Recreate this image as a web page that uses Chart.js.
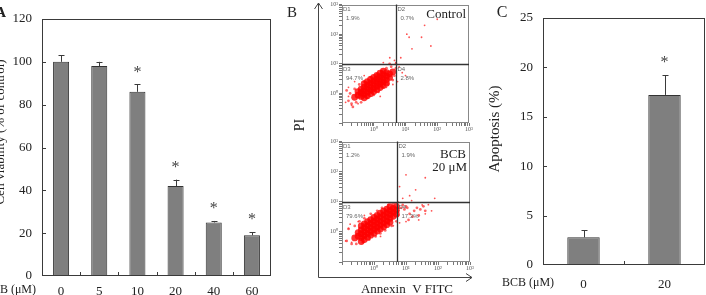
<!DOCTYPE html>
<html>
<head>
<meta charset="utf-8">
<script src="https://cdn.jsdelivr.net/npm/chart.js@4"></script>
<style>
  html, body { margin: 0; padding: 0; background: #fff; }
  body { width: 706px; height: 295px; position: relative; overflow: hidden; }
  .box { position: absolute; }
</style>
</head>
<body>
<div class="box" style="left:0;top:0;width:280px;height:295px"><canvas id="chartA"></canvas></div>
<div class="box" style="left:285px;top:0;width:190px;height:295px"><canvas id="axesB"></canvas></div>
<div class="box" style="left:320px;top:0;width:155px;height:140px"><canvas id="flowTop"></canvas></div>
<div class="box" style="left:320px;top:137px;width:155px;height:140px"><canvas id="flowBottom"></canvas></div>
<div class="box" style="left:470px;top:0;width:236px;height:295px"><canvas id="chartC"></canvas></div>
<script>
// panel A - cell viability
const doses = ["0", "5", "10", "20", "40", "60"];
const viability = [100, 98, 86, 42, 25, 19];
const viabilityErr = [103, 100, 89.5, 45, 25.7, 20.5];
const viabilityStar = [false, false, true, true, true, true];

// panel C - apoptosis
const apoDoses = ["0", "20"];
const apoptosis = [2.8, 17.2];
const apoptosisErr = [3.5, 19.2];
const apoptosisStar = [false, true];

// panel B - flow cytometry (Annexin V FITC, PI)
const controlCore = [
  [0.25, 0.74], [0.32, 0.87], [0.32, 1.15], [0.4, 1.05], [0.4, 0.79], [0.4, 1.38],
  [0.5, 1.23], [0.5, 0.93], [0.5, 1.62], [0.63, 1.45], [0.63, 1.1], [0.63, 1.9],
  [0.79, 1.7], [0.79, 1.29], [0.79, 2.24], [1, 2], [1, 1.51], [1, 2.63],
  [1.26, 2.34], [1.26, 1.78], [1.26, 3.09], [1.58, 2.75], [1.58, 2.09], [1.58, 3.63],
  [2, 3.24], [2, 2.45], [2, 4.27], [2.51, 3.8], [2.51, 2.88], [2.51, 5],
  [3.16, 4.57], [3.16, 3.47], [3.98, 5.37],
  [0.5, 2.14], [0.5, 0.71], [0.63, 2.51], [0.63, 0.83], [0.79, 2.95], [0.79, 0.98],
  [1, 3.47], [1, 1.15], [1.26, 4.07], [1.26, 1.35], [1.58, 4.79], [1.58, 1.58],
  [2, 5.62], [2, 1.86], [2.51, 2.19],
];
const controlHalo = [
  [0.16, 0.56], [0.18, 1], [0.2, 0.45], [0.25, 1.41], [0.28, 0.5], [0.35, 2], [0.4, 0.5],
  [0.5, 2.5], [0.63, 0.71], [0.79, 3.55], [1, 0.89], [1.26, 4.47], [1.41, 1.12], [1.78, 5.62],
  [2, 1.58], [2.51, 7.08], [2.82, 2], [3.55, 7.94], [3.98, 2.82], [4.47, 3.98], [5, 7.08],
  [0.14, 1.26], [0.22, 0.35], [5, 10], [3.16, 10],
];
const controlSparse = [
  [0.13, 0.5], [0.16, 1.6], [0.2, 0.4], [0.25, 2.5], [5, 11], [6.3, 7.9], [4.5, 13], [7.9, 5],
  [16, 32], [32, 79], [63, 40], [3.2, 16], [2, 11], [5.6, 2.5], [10, 4], [0.5, 4], [1.6, 0.79],
  [2.5, 1.6], [4, 2], [0.16, 0.79], [0.32, 0.45], [40, 200], [13, 79], [100, 320], [11, 100], [7.1, 16],
];
const bcbCore = [
  [0.25, 0.63], [0.32, 0.72], [0.32, 0.95], [0.4, 0.87], [0.4, 1.17], [0.4, 0.65],
  [0.5, 1.02], [0.5, 1.38], [0.5, 0.76], [0.63, 1.2], [0.63, 1.62], [0.63, 0.89],
  [0.79, 1.41], [0.79, 1.91], [0.79, 1.05], [1, 1.66], [1, 2.24], [1, 1.23],
  [1.26, 1.95], [1.26, 2.63], [1.26, 1.45], [1.58, 2.29], [1.58, 3.09], [1.58, 1.7],
  [2, 2.69], [2, 3.63], [2, 2], [2.51, 3.16], [2.51, 4.27], [2.51, 2.34],
  [3.16, 3.8], [3.16, 5.13], [3.16, 2.82], [3.98, 4.47], [3.98, 6.03], [5, 5.25],
  [0.4, 1.58], [0.4, 0.48], [0.5, 1.86], [0.5, 0.56], [0.63, 2.19], [0.63, 0.66],
  [0.79, 2.57], [0.79, 0.78], [1, 3.02], [1, 0.91], [1.26, 3.55], [1.26, 1.07],
  [1.58, 4.17], [1.58, 1.26], [2, 4.9], [2, 1.48], [2.51, 5.75], [2.51, 1.74],
  [3.16, 6.92], [3.16, 2.09], [3.98, 3.31], [5, 7.08], [5, 3.89],
];
const bcbHalo = [
  [5.6, 5], [7.1, 6.3], [8.9, 5.6], [10, 7.1], [7.9, 7.9], [11, 6.3],
  [13, 4], [18, 5], [22, 6.3], [28, 5.6], [35, 7.1], [16, 3.2], [25, 3.5], [40, 5], [12, 2.5],
  [0.14, 0.5], [0.16, 1.26], [0.2, 0.4], [0.25, 1.58], [0.28, 0.4], [0.35, 2.24], [0.45, 0.45],
  [0.5, 2.82], [0.71, 0.56], [0.79, 3.98], [1.12, 0.71], [1.26, 5], [1.58, 0.89], [1.78, 6.31],
  [2.24, 1.12], [2.82, 7.94], [3.55, 1.58], [3.98, 8.91], [5, 2.24], [5.62, 3.55],
];
const bcbSparse = [
  [0.13, 0.5], [0.16, 1.3], [0.2, 0.45], [0.18, 1.8], [0.32, 2.2], [6.3, 2], [10, 2.2], [25, 2.5],
  [40, 4], [63, 5], [32, 7.9], [7.9, 13], [13, 16], [20, 25], [6.3, 32], [40, 63], [10, 79],
  [0.5, 3.5], [1.6, 0.71], [4, 1.6], [79, 13], [5.6, 10], [50, 8], [15, 11],
];
const quadNames = ["D1", "D2", "D3", "D4"];
const controlQuad = ["1.9%", "0.7%", "94.7%", "2.8%"];
const bcbQuad = ["1.2%", "1.9%", "79.6%", "17.3%"];
const gateX = 5.2;
const gateY = 10;

const SERIF = '"Liberation Serif", "Times New Roman", serif';
const SANS = '"Liberation Sans", Arial, sans-serif';
const SUP = ["\u2070", "\u00b9", "\u00b2", "\u00b3"];
Chart.defaults.font.family = SERIF;
Chart.defaults.color = "#222";

function drawText(ctx, t) {
  ctx.save();
  ctx.font = t.font;
  ctx.fillStyle = t.color || "#222";
  ctx.textAlign = t.align || "center";
  ctx.textBaseline = "middle";
  ctx.translate(t.x, t.y);
  if (t.rotate) ctx.rotate(t.rotate);
  ctx.fillText(t.text, 0, 0);
  ctx.restore();
}

// frame, inward ticks, error bars, stars and loose labels for the bar panels
function barExtras(errs, stars, texts) {
  return {
    id: "barExtras",
    afterDraw(chart) {
      const { ctx, chartArea: a, scales } = chart;
      const x = scales.x, y = scales.y;
      ctx.save();
      ctx.strokeStyle = "#3a3a3a";
      ctx.lineWidth = 1;
      ctx.strokeRect(Math.round(a.left) + 0.5, Math.round(a.top) + 0.5,
        Math.round(a.right - a.left) - 1, Math.round(a.bottom - a.top) - 1);

      ctx.beginPath();
      y.ticks.forEach((t) => {
        if (t.value <= y.min || t.value >= y.max) return;
        const py = Math.round(y.getPixelForValue(t.value)) + 0.5;
        ctx.moveTo(a.left, py);
        ctx.lineTo(a.left + 4, py);
      });
      for (let i = 1; i < chart.data.labels.length; i++) {
        const px = Math.round(x.getPixelForValue(i - 0.5)) + 0.5;
        ctx.moveTo(px, a.bottom);
        ctx.lineTo(px, a.bottom - 4);
      }
      ctx.stroke();

      const meta = chart.getDatasetMeta(0);
      meta.data.forEach((bar, i) => {
        const cx = Math.round(bar.x) + 0.5;
        const top = y.getPixelForValue(errs[i]);
        ctx.beginPath();
        ctx.moveTo(cx, bar.y);
        ctx.lineTo(cx, top);
        ctx.moveTo(cx - 3, Math.round(top) + 0.5);
        ctx.lineTo(cx + 3, Math.round(top) + 0.5);
        ctx.stroke();
        if (stars[i]) {
          drawText(ctx, { text: "*", x: bar.x, y: top - 12, font: "16px " + SERIF, color: "#444" });
        }
      });
      ctx.restore();
      texts.forEach((t) => drawText(ctx, t));
    },
  };
}

function barChart(id, labels, values, opts) {
  return new Chart(document.getElementById(id), {
    type: "bar",
    data: {
      labels: labels,
      datasets: [{
        data: values,
        backgroundColor: "#7f7f7f",
        borderColor: "#333",
        borderWidth: 1,
        borderSkipped: "bottom",
        barPercentage: opts.barPct,
        categoryPercentage: 1,
      }],
    },
    options: {
      animation: false,
      responsive: true,
      maintainAspectRatio: false,
      layout: { padding: { top: opts.top, right: opts.right, left: 0, bottom: 0 } },
      plugins: { legend: { display: false }, tooltip: { enabled: false } },
      scales: {
        x: {
          grid: { display: false, drawTicks: false },
          border: { display: false },
          ticks: { padding: opts.xPad, font: { size: 13 }, color: "#222" },
          afterFit: (s) => { s.height = opts.xHeight; },
        },
        y: {
          min: 0,
          max: opts.max,
          grid: { display: false, drawTicks: false },
          border: { display: false },
          ticks: { stepSize: opts.step, padding: opts.yPad, font: { size: 13 }, color: "#222" },
          afterFit: (s) => { s.width = opts.yWidth; },
        },
      },
    },
    plugins: [barExtras(opts.errs, opts.stars, opts.texts)],
  });
}

barChart("chartA", doses, viability, {
  barPct: 0.42, top: 19, right: 9, xHeight: 19, yWidth: 42, xPad: 8, yPad: 10,
  max: 120, step: 20, errs: viabilityErr, stars: viabilityStar,
  texts: [
    { text: "A", x: 6, y: 13, font: "bold 15px " + SERIF, align: "right" },
    { text: "BCB (\u03bcM)", x: 36, y: 290, font: "12px " + SERIF, align: "right" },
    { text: "Cell viability (% of control)", x: 1, y: 132, font: "13px " + SERIF, rotate: -Math.PI / 2 },
  ],
});

barChart("chartC", apoDoses, apoptosis, {
  barPct: 0.4, top: 14, right: 1, xHeight: 30, yWidth: 73, xPad: 12, yPad: 10,
  max: 25, step: 5, errs: apoptosisErr, stars: apoptosisStar,
  texts: [
    { text: "C", x: 32, y: 13, font: "16px " + SERIF },
    { text: "BCB (\u03bcM)", x: 58, y: 283, font: "12px " + SERIF },
    { text: "Apoptosis (%)", x: 25, y: 129, font: "15px " + SERIF, rotate: -Math.PI / 2 },
  ],
});

// panel B outer axes with arrows
new Chart(document.getElementById("axesB"), {
  type: "scatter",
  data: { datasets: [] },
  options: {
    animation: false,
    responsive: true,
    maintainAspectRatio: false,
    plugins: { legend: { display: false }, tooltip: { enabled: false } },
    scales: { x: { display: false }, y: { display: false } },
  },
  plugins: [{
    id: "arrows",
    afterDraw(chart) {
      const ctx = chart.ctx;
      ctx.save();
      ctx.strokeStyle = "#444";
      ctx.lineWidth = 1;
      ctx.beginPath();
      ctx.moveTo(33.5, 3);
      ctx.lineTo(33.5, 277.5);
      ctx.lineTo(187, 277.5);
      ctx.moveTo(29.5, 9);
      ctx.lineTo(33.5, 3);
      ctx.lineTo(37.5, 9);
      ctx.moveTo(181, 273.5);
      ctx.lineTo(187, 277.5);
      ctx.lineTo(181, 281.5);
      ctx.stroke();
      ctx.restore();
      drawText(ctx, { text: "B", x: 7, y: 13, font: "15px " + SERIF });
      drawText(ctx, { text: "PI", x: 15, y: 125, font: "14px " + SERIF, rotate: -Math.PI / 2 });
      drawText(ctx, { text: "Annexin  V FITC", x: 122, y: 290, font: "13px " + SERIF });
    },
  }],
});

function decadeTicks(s) {
  const ticks = [];
  for (let e = -1; e < 3; e++) {
    for (let k = 1; k < 10; k++) ticks.push({ value: k * Math.pow(10, e) });
  }
  ticks.push({ value: 1000 });
  s.ticks = ticks;
}

function decadeLabel(v) {
  const e = Math.round(Math.log10(v));
  if (e < 0 || Math.abs(Math.log10(v) - e) > 1e-6) return "";
  return "10" + SUP[e];
}

function flowExtras(pcts, tags) {
  return {
    id: "flowExtras",
    afterDraw(chart) {
      const { ctx, chartArea: a, scales } = chart;
      const gx = Math.round(scales.x.getPixelForValue(gateX)) + 0.5;
      const gy = Math.round(scales.y.getPixelForValue(gateY)) + 0.5;
      ctx.save();
      ctx.lineWidth = 1;
      ctx.strokeStyle = "#888";
      ctx.strokeRect(Math.round(a.left) + 0.5, Math.round(a.top) + 0.5,
        Math.round(a.right - a.left) - 1, Math.round(a.bottom - a.top) - 1);
      ctx.strokeStyle = "#333";
      ctx.lineWidth = 1.3;
      ctx.beginPath();
      ctx.moveTo(gx, a.top);
      ctx.lineTo(gx, a.bottom);
      ctx.moveTo(a.left, gy);
      ctx.lineTo(a.right, gy);
      ctx.stroke();
      ctx.restore();
      const spots = [[a.left, a.top], [gx, a.top], [a.left, gy], [gx, gy]];
      spots.forEach(([qx, qy], i) => {
        drawText(ctx, { text: quadNames[i], x: qx + 1, y: qy + 5, font: "6px " + SANS, align: "left", color: "#666" });
        drawText(ctx, { text: pcts[i], x: qx + 4, y: qy + 14, font: "6px " + SANS, align: "left", color: "#666" });
      });
      tags.forEach((t) => drawText(ctx, t));
    },
  };
}

function dots(points, radius, color) {
  return {
    data: points.map(([x, y]) => ({ x, y })),
    pointRadius: radius,
    pointBackgroundColor: color,
    pointBorderWidth: 0,
    pointBorderColor: "rgba(0,0,0,0)",
  };
}

function flowChart(id, core, halo, sparse, pcts, tags, pad, xHeight) {
  return new Chart(document.getElementById(id), {
    type: "scatter",
    data: {
      datasets: [
        dots(sparse, 0.9, "rgba(255,40,40,0.8)"),
        dots(halo, 1.4, "rgba(255,0,0,0.6)"),
        dots(core, 3.4, "rgba(255,0,0,0.8)"),
      ],
    },
    options: {
      animation: false,
      responsive: true,
      maintainAspectRatio: false,
      layout: { padding: pad },
      plugins: { legend: { display: false }, tooltip: { enabled: false } },
      scales: {
        x: {
          type: "logarithmic",
          min: 0.1,
          max: 1000,
          border: { display: false },
          grid: { drawOnChartArea: false, tickLength: 3, color: "#777" },
          ticks: { autoSkip: false, maxRotation: 0, padding: 0, font: { size: 6 }, color: "#555", callback: decadeLabel },
          afterBuildTicks: decadeTicks,
          afterFit: (s) => { s.height = xHeight; },
        },
        y: {
          type: "logarithmic",
          min: 0.1,
          max: 1000,
          border: { display: false },
          grid: { drawOnChartArea: false, tickLength: 3, color: "#777" },
          ticks: { autoSkip: false, padding: 1, font: { size: 6 }, color: "#555", callback: decadeLabel },
          afterBuildTicks: decadeTicks,
          afterFit: (s) => { s.width = 22; },
        },
      },
    },
    plugins: [flowExtras(pcts, tags)],
  });
}

flowChart("flowTop", controlCore, controlHalo, controlSparse, controlQuad, [
  { text: "Control", x: 146, y: 15, font: "13px " + SERIF, align: "right" },
], { top: 3, right: 6, left: 0, bottom: 0 }, 17);

flowChart("flowBottom", bcbCore, bcbHalo, bcbSparse, bcbQuad, [
  { text: "BCB", x: 146, y: 18, font: "13px " + SERIF, align: "right" },
  { text: "20 \u03bcM", x: 147, y: 31, font: "13px " + SERIF, align: "right" },
], { top: 4, right: 5, left: 0, bottom: 0 }, 15);
</script>
</body>
</html>
